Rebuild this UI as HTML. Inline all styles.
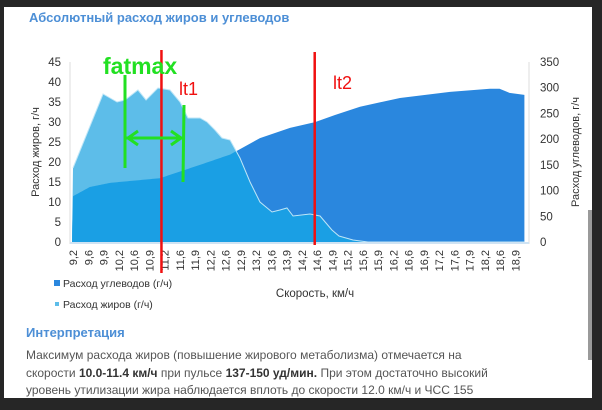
<!DOCTYPE html>
<html><head><meta charset="utf-8">
<style>
body{margin:0;width:602px;height:410px;background:#262626;overflow:hidden;font-family:"Liberation Sans","Noto Sans CJK SC",sans-serif;}
#panel{position:absolute;left:4px;top:7px;width:588px;height:391px;background:#fff;}
#scroll{position:absolute;left:588px;top:210px;width:4px;height:150px;background:#9a9a9a;}
.t{position:absolute;white-space:nowrap;}
</style></head><body>
<div id="panel"></div>
<div id="scroll"></div>
<svg id="chart" width="602" height="410" style="position:absolute;left:0;top:0"></svg>
<div class="t" style="left:29px;top:10px;font-size:13px;font-weight:bold;color:#4d8fd6">Абсолютный расход жиров и углеводов</div>
<div class="t" style="left:26px;top:325px;font-size:13px;font-weight:bold;color:#4d8fd6">Интерпретация</div>
<div class="t" style="left:26px;top:347px;font-size:12px;line-height:17.5px;color:#555">Максимум расхода жиров (повышение жирового метаболизма) отмечается на<br>скорости <b style="color:#333">10.0-11.4 км/ч</b> при пульсе <b style="color:#333">137-150 уд/мин.</b> При этом достаточно высокий<br>уровень утилизации жира наблюдается вплоть до скорости 12.0 км/ч и ЧСС 155</div>
<script>
const speedLabels=["9,2","9,6","9,9","10,2","10,6","10,9","11,2","11,6","11,9","12,2","12,6","12,9","13,2","13,6","13,9","14,2","14,6","14,9","15,2","15,6","15,9","16,2","16,6","16,9","17,2","17,6","17,9","18,2","18,6","18,9"];
const leftTicks=[0,5,10,15,20,25,30,35,40,45];
const rightTicks=[0,50,100,150,200,250,300,350];
const fatPos=[0,1.97,2.43,2.89,3.41,4.26,4.79,5.57,6.36,7.02,7.54,8.33,8.79,9.31,9.77,10.3,10.95,11.61,12.26,13.05,13.57,14.03,14.43,15.54,16.2,16.98,17.44,18.36,19.34,29.6];
const fatVals=[18.5,37,36,35,35.5,38,35.5,38.5,38,35,31,31,30,28,26,25.5,21,15,10,7.5,8,8.5,6.5,7,6.5,3,1.5,0.5,0,0];
const carbPos=[0,1.11,2.43,5.7,8.33,10.3,12.26,14.23,15.87,17.18,18.82,21.44,24.72,27.34,27.97,28.62,29.6];
const carbVals=[89,107,115,124,150,170,202,222,233,247,263,280,292,298,298,290,286];
const lt1Pos=5.8, lt2Pos=15.85;

const svg=document.getElementById('chart');const NS='http://www.w3.org/2000/svg';
const X=i=>73+i*15.25, YL=v=>242-v*4, YR=v=>242-v*180/350;
function el(tag,attrs,parent){const e=document.createElementNS(NS,tag);for(const k in attrs)e.setAttribute(k,attrs[k]);(parent||svg).appendChild(e);return e;}
function interp(pos,vals,p){if(p<=pos[0])return vals[0];for(let i=1;i<pos.length;i++){if(p<=pos[i]){const t=(p-pos[i-1])/(pos[i]-pos[i-1]);return vals[i-1]+t*(vals[i]-vals[i-1]);}}return vals[vals.length-1];}
const x0=X(0)-1,x1=X(29.6);
// carb area
let d='M'+x0+',242 ';carbPos.forEach((p,i)=>d+='L'+X(p)+','+YR(carbVals[i])+' ');d+='L'+x1+',242Z';
const carb=el('path',{d:d,fill:'#2a87de'});

// fat area
d='M'+x0+',242 ';fatPos.forEach((p,i)=>d+='L'+X(p)+','+YL(fatVals[i])+' ');d+='L'+x1+',242Z';
const fat=el('path',{d:d,fill:'#5dbde9'});

// overlap area
let pts=[];for(let p=0;p<=29.6;p+=0.1){const fy=YL(interp(fatPos,fatVals,p)),cy=YR(interp(carbPos,carbVals,p));pts.push([X(p),Math.max(fy,cy)]);}
d='M'+x0+',242 ';pts.forEach(q=>d+='L'+q[0]+','+q[1]+' ');d+='L'+x1+',242Z';
const ov=el('path',{d:d,fill:'#1a9fe4'});

// fat outline over carb
d='';fatPos.forEach((p,i)=>d+=(i?'L':'M')+X(p)+','+YL(fatVals[i])+' ');
const fl=el('path',{d:d,fill:'none',stroke:'#bfe6f7','stroke-width':1});

// axes
el('line',{x1:70,y1:62,x2:70,y2:244,stroke:'#ddd'});
el('line',{x1:529,y1:62,x2:529,y2:244,stroke:'#ddd'});
el('line',{x1:70,y1:243,x2:529,y2:243,stroke:'#cfe3f3','stroke-width':2});
leftTicks.forEach(v=>{const t=el('text',{x:61,y:YL(v)+4,'text-anchor':'end','font-size':11.5,fill:'#333'});t.textContent=v;
});
rightTicks.forEach(v=>{const t=el('text',{x:540,y:YR(v)+4,'font-size':11.5,fill:'#333'});t.textContent=v;
});
speedLabels.forEach((s,i)=>{const t=el('text',{x:0,y:0,'text-anchor':'end','font-size':11,fill:'#333',transform:'translate('+(X(i)+4)+',250) rotate(-90)'});t.textContent=s;
});
let t=el('text',{transform:'translate(39,152) rotate(-90)','text-anchor':'middle','font-size':11,fill:'#333'});t.textContent='Расход жиров, г/ч';

t=el('text',{transform:'translate(579,152) rotate(-90)','text-anchor':'middle','font-size':11,fill:'#333'});t.textContent='Расход углеводов, г/ч';

t=el('text',{x:315,y:297,'text-anchor':'middle','font-size':11.5,fill:'#333'});t.textContent='Скорость, км/ч';

// legend
el('rect',{x:54,y:280,width:6,height:6,fill:'#2a87de'});
t=el('text',{x:63,y:287,'font-size':10.5,fill:'#333'});t.textContent='Расход углеводов (г/ч)';

el('rect',{x:55,y:302,width:4,height:4,fill:'#5dbde9'});
t=el('text',{x:63,y:308,'font-size':10.5,fill:'#333'});t.textContent='Расход жиров (г/ч)';

// threshold lines
const l1=el('line',{x1:X(lt1Pos),y1:50,x2:X(lt1Pos),y2:273,stroke:'#f01010','stroke-width':2.5});

const l2=el('line',{x1:X(lt2Pos),y1:52,x2:X(lt2Pos),y2:245,stroke:'#f01010','stroke-width':2.5});

t=el('text',{x:179,y:95,'font-size':18,fill:'#f01010'});t.textContent='lt1';

t=el('text',{x:333,y:89,'font-size':18,fill:'#f01010'});t.textContent='lt2';

// fatmax annotation
t=el('text',{x:103,y:74,'font-size':23,'font-weight':'bold',fill:'#22e022'});t.textContent='fatmax';

const g=el('g',{stroke:'#22e022','stroke-width':3,fill:'none'});

el('line',{x1:125,y1:75,x2:125,y2:168},g);
el('line',{x1:184,y1:105,x2:183,y2:182},g);
el('line',{x1:126,y1:138,x2:183,y2:138},g);
el('path',{d:'M138,131 L128,138 L138,145'},g);
el('path',{d:'M171,131 L181,138 L171,145'},g);
</script>
</body></html>
